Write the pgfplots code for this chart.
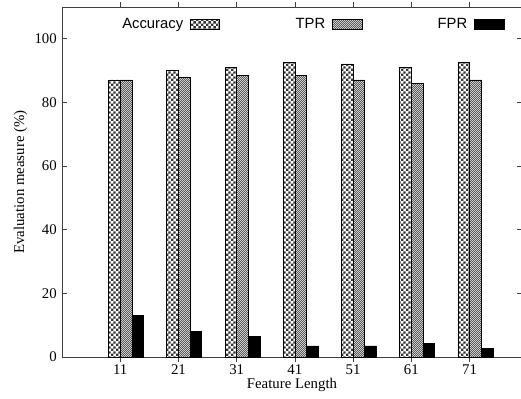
\documentclass[border=0pt]{standalone}
\usepackage{fontspec}
\setmainfont{Liberation Serif}
\newfontfamily\legendfont{Liberation Sans}
\usepackage{pgfplots}
\pgfplotsset{compat=1.18}
\usetikzlibrary{patterns}
\pgfdeclarepatternformonly{acc}{\pgfqpoint{0pt}{0pt}}{\pgfqpoint{3.6pt}{3.6pt}}{\pgfqpoint{3.6pt}{3.6pt}}{%
  \pgfpathrectangle{\pgfqpoint{0pt}{0pt}}{\pgfqpoint{1.8pt}{1.8pt}}%
  \pgfpathrectangle{\pgfqpoint{1.8pt}{1.8pt}}{\pgfqpoint{1.8pt}{1.8pt}}%
  \pgfusepath{fill}}
\pgfdeclarepatternformonly{tpr}{\pgfqpoint{0pt}{0pt}}{\pgfqpoint{1.6pt}{1.6pt}}{\pgfqpoint{1.6pt}{1.6pt}}{%
  \pgfpathrectangle{\pgfqpoint{0pt}{0pt}}{\pgfqpoint{0.8pt}{0.8pt}}%
  \pgfpathrectangle{\pgfqpoint{0.8pt}{0.8pt}}{\pgfqpoint{0.8pt}{0.8pt}}%
  \pgfusepath{fill}}
\begin{document}
\begin{tikzpicture}
\begin{axis}[
  name=ax,
  scale only axis,
  width=310.5pt, height=236.25pt,
  xmin=1, xmax=80, ymin=0, ymax=110,
  xtick={11,21,31,41,51,61,71},
  ytick={0,20,40,60,80,100},
  tick align=inside,
  major tick length=3.4pt,
  /pgf/number format/assume math mode=true,
  tick label style={font=\normalsize},
  xticklabel style={yshift=1.5pt},
  axis line style={black!75, line width=0.6pt},
  tick style={black!75, line width=0.5pt},
  xlabel={Feature Length},
  ylabel={Evaluation measure (\%)},
  xlabel style={yshift=5pt},
  ylabel style={yshift=-2pt},
  ybar, bar width=2,
  legend columns=3,
  legend plot pos=right,
  legend style={draw=none, fill=none, font=\legendfont\normalsize,
    at={(0.543,0.985)}, anchor=north,
    /tikz/every even column/.append style={column sep=49pt},
    /tikz/every odd column/.append style={column sep=2.5pt}},
  legend image code/.code={\draw[#1, line width=0.4pt] (0pt,-3.4pt) rectangle (20pt,3.4pt);},
]
\addplot[bar shift=-1, draw=black, line width=0.4pt, fill=white, postaction={pattern=acc, pattern color=black!80}] coordinates {
(11,87.1) (21,90.0) (31,91.0) (41,92.5) (51,92.1) (61,91.0) (71,92.5)};
\addlegendentry{Accuracy}
\addplot[bar shift=1, draw=black, line width=0.4pt, fill=gray!25, postaction={pattern=tpr, pattern color=black!65}] coordinates {
(11,87.1) (21,87.8) (31,88.5) (41,88.5) (51,87.1) (61,86.0) (71,87.1)};
\addlegendentry{TPR}
\addplot[bar shift=3, draw=black, line width=0.4pt, fill=black] coordinates {
(11,13.0) (21,8.0) (31,6.6) (41,3.5) (51,3.5) (61,4.3) (71,2.6)};
\addlegendentry{FPR}
\end{axis}
\pgfresetboundingbox
\path[use as bounding box] ([xshift=-41.85pt, yshift=-27.7pt]ax.south west) rectangle ([xshift=309.85pt, yshift=241pt]ax.south west);
\end{tikzpicture}
\end{document}
